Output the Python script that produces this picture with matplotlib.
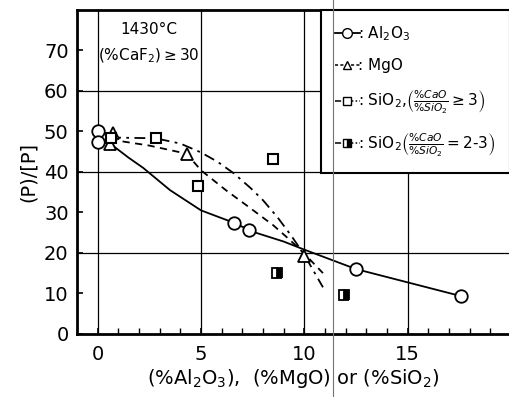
import matplotlib
matplotlib.use('Agg')
import matplotlib.pyplot as plt
from matplotlib.lines import Line2D

# Puntos medidos
al2o3_x = [0.0, 0.0, 6.6, 7.3, 12.5, 17.6]
al2o3_y = [50.0, 47.5, 27.3, 25.6, 16.0, 9.3]
mgo_x = [0.75, 0.6, 4.3, 10.0]
mgo_y = [49.5, 47.0, 44.5, 19.3]
sio2_x = [0.65, 2.8, 4.85, 8.5]
sio2_y = [48.3, 48.3, 36.4, 43.3]
sio2b_x = [8.7, 11.9]
sio2b_y = [15.0, 9.6]

# Curvas trazadas a mano
al2o3_cx = [0.6, 1.5, 2.2, 3.5, 5.0, 6.3, 7.7, 9.0, 10.0, 12.5, 17.6]
al2o3_cy = [47.0, 43.5, 41.0, 35.5, 30.5, 28.0, 24.9, 22.8, 20.8, 16.0, 9.3]
mgo_cx = [0.6, 2.5, 4.3, 5.0, 6.2, 7.4, 8.5, 9.3, 10.0, 10.9]
mgo_cy = [48.0, 46.5, 44.5, 40.4, 35.5, 31.0, 26.8, 23.2, 19.8, 15.0]
sio2_cx = [0.6, 2.8, 4.0, 5.0, 5.8, 6.6, 7.4, 8.0, 8.7, 9.4, 10.0, 10.9]
sio2_cy = [48.5, 48.3, 47.0, 44.8, 42.5, 39.6, 36.0, 33.0, 28.8, 24.0, 19.5, 11.5]

fig = plt.figure(figsize=(5.1, 3.97), dpi=100)
ax = fig.add_axes([0.151, 0.159, 0.849, 0.816])

ax.plot(al2o3_cx, al2o3_cy, '-', color='black', lw=1.3, zorder=3)
ax.plot(mgo_cx, mgo_cy, color='black', lw=1.3, dashes=(4, 3), zorder=3)
ax.plot(sio2_cx, sio2_cy, color='black', lw=1.3, dashes=(6, 3, 1.5, 3), zorder=3)

ax.plot(al2o3_x, al2o3_y, 'o', ms=9, mfc='white', mec='black', mew=1.3, zorder=4)
ax.plot(mgo_x, mgo_y, '^', ms=8, mfc='white', mec='black', mew=1.3, zorder=4)
ax.plot(sio2_x, sio2_y, 's', ms=7, mfc='white', mec='black', mew=1.5, zorder=4)
ax.plot(sio2b_x, sio2b_y, 's', ms=7, fillstyle='right', mfc='black',
        mfcalt='white', mec='black', mew=1.3, zorder=4)

ax.set_xlim(-1.0, 19.95)
ax.set_ylim(0, 80)
ax.set_xticks([0, 5, 10, 15])
ax.set_xticks(range(0, 20), minor=True)
ax.set_yticks(range(0, 80, 10))
ax.tick_params(direction='in', length=4, width=1.2, labelsize=14, pad=6)
ax.tick_params(which='minor', direction='in', length=4, width=1.0)
ax.tick_params(axis='x', pad=8)
for s in ['left', 'bottom', 'top']:
    ax.spines[s].set_linewidth(2.0)
ax.spines['right'].set_visible(False)

# rejilla
for gx in [0, 5, 10, 15]:
    ax.axvline(gx, color='black', lw=0.9, zorder=1)
for gy in [20, 40, 60]:
    ax.axhline(gy, color='black', lw=0.9, zorder=1)

ax.set_ylabel('(P)/[P]', fontsize=14, labelpad=4)
ax.set_xlabel(r'(%Al$_2$O$_3$),  (%MgO) or (%SiO$_2$)', fontsize=14, labelpad=2)

ax.text(1.1, 74, '1430°C', fontsize=11)
ax.text(0.0, 67.5, r'(%CaF$_2$)$\geq$30', fontsize=11)

handles = [
    Line2D([], [], color='black', lw=1.3, marker='o', ms=7, mfc='white', mec='black'),
    Line2D([], [], color='black', lw=1.1, dashes=(2, 1.5), marker='^', ms=6, mfc='white', mec='black'),
    Line2D([], [], color='black', lw=1.1, dashes=(4, 1.5, 1, 1.5), marker='s', ms=5.5, mfc='white', mec='black'),
    Line2D([], [], color='black', lw=1.1, dashes=(4, 1.5, 1, 1.5), marker='s', ms=5.5, fillstyle='right',
           mfc='black', mfcalt='white', mec='black'),
]
labels = [
    r': Al$_2$O$_3$',
    ': MgO',
    r': SiO$_2$,$\left(\frac{\%CaO}{\%SiO_2}\geq3\right)$',
    r': SiO$_2$$\left(\frac{\%CaO}{\%SiO_2}=2\text{-}3\right)$',
]
leg = ax.legend(handles, labels, loc='upper right', bbox_to_anchor=(1.0, 1.0),
                borderaxespad=0, fancybox=False, edgecolor='black', framealpha=1,
                fontsize=11, handlelength=1.6, handletextpad=-0.1, labelspacing=1.0,
                borderpad=0.95, numpoints=1)
leg.get_frame().set_linewidth(1.5)
leg.set_zorder(5)

# linea del escaneo
fig.add_artist(Line2D([333 / 510, 333 / 510], [0, 1], color='0.45', lw=0.8))

fig.savefig('out.png', dpi=100)
